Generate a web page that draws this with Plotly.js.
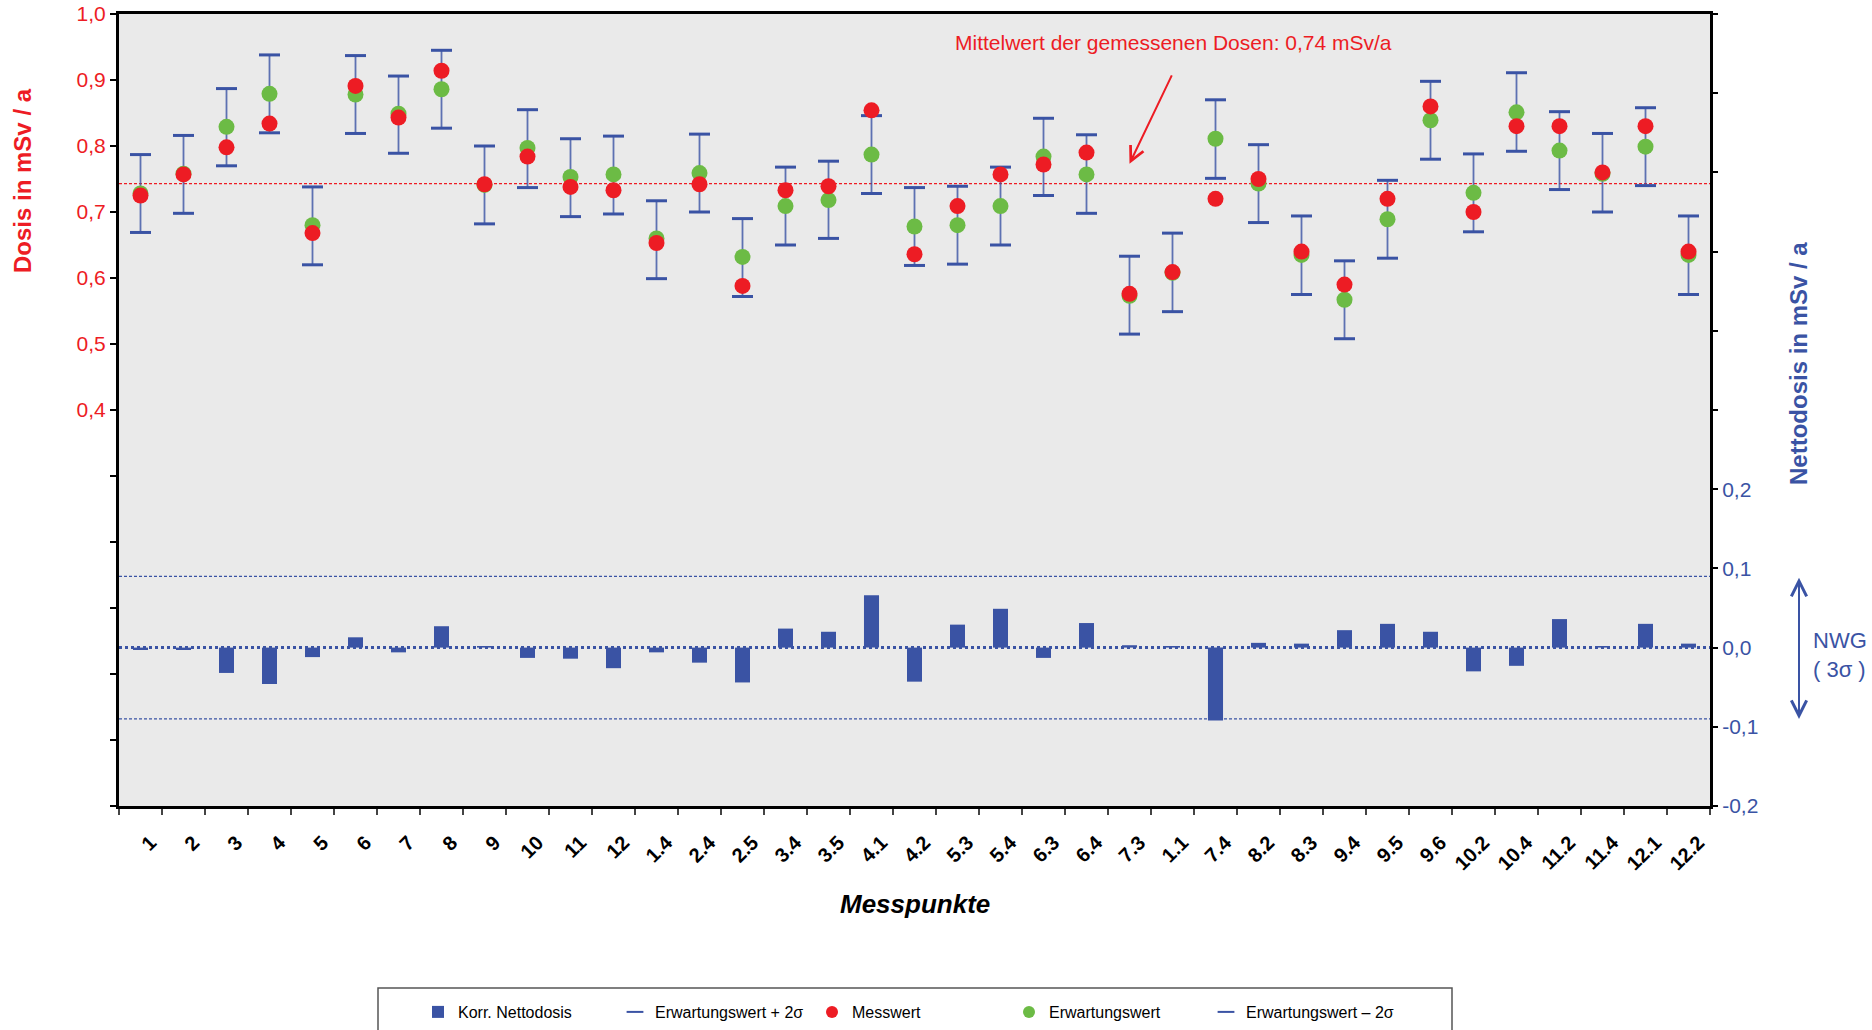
<!DOCTYPE html>
<html><head><meta charset="utf-8">
<script src="https://cdn.plot.ly/plotly-3.0.1.min.js"></script>
<style>html,body{margin:0;padding:0;background:#fff;} #chart{width:1872px;height:1030px;}</style>
</head><body><div id="chart"></div>
<script>
const categories = ['1','2','3','4','5','6','7','8','9','10','11','12','1.4','2.4','2.5','3.4','3.5','4.1','4.2','5.3','5.4','6.3','6.4','7.3','1.1','7.4','8.2','8.3','9.4','9.5','9.6','10.2','10.4','11.2','11.4','12.1','12.2'];
const messwert = [0.725,0.757,0.798,0.834,0.668,0.891,0.843,0.914,0.742,0.784,0.738,0.733,0.653,0.742,0.588,0.733,0.739,0.854,0.636,0.709,0.757,0.772,0.790,0.576,0.609,0.720,0.750,0.640,0.590,0.720,0.860,0.700,0.830,0.830,0.760,0.830,0.640];
const erwartungswert = [0.728,0.758,0.829,0.879,0.680,0.878,0.849,0.886,0.741,0.797,0.753,0.757,0.660,0.759,0.632,0.709,0.718,0.787,0.678,0.680,0.709,0.784,0.757,0.573,0.608,0.811,0.743,0.635,0.567,0.689,0.839,0.729,0.851,0.793,0.758,0.799,0.635];
const erwartungPlus2s = [0.787,0.816,0.887,0.938,0.738,0.937,0.906,0.945,0.800,0.855,0.811,0.815,0.717,0.818,0.690,0.768,0.777,0.846,0.737,0.739,0.768,0.842,0.817,0.633,0.668,0.870,0.802,0.694,0.626,0.748,0.898,0.788,0.911,0.852,0.819,0.858,0.694];
const erwartungMinus2s = [0.669,0.698,0.770,0.820,0.620,0.819,0.789,0.827,0.682,0.737,0.693,0.697,0.599,0.700,0.572,0.650,0.660,0.728,0.619,0.621,0.650,0.725,0.698,0.515,0.549,0.751,0.684,0.575,0.508,0.630,0.780,0.670,0.792,0.734,0.700,0.740,0.575];
const nettodosis = [-0.003,-0.003,-0.032,-0.046,-0.012,0.013,-0.006,0.027,0.002,-0.013,-0.014,-0.026,-0.006,-0.019,-0.044,0.024,0.020,0.066,-0.043,0.029,0.049,-0.013,0.031,0.003,0.002,-0.092,0.006,0.005,0.022,0.030,0.020,-0.030,-0.023,0.036,0.002,0.030,0.005];
const meanDose = 0.743;
const nwgLimit = 0.09;
const leftTickVals = [-0.2,-0.1,0,0.1,0.2,0.3,0.4,0.5,0.6,0.7,0.8,0.9,1.0];
const leftTickText = ['','','','','','','0,4','0,5','0,6','0,7','0,8','0,9','1,0'];
const rightTickVals = [-0.2,-0.1,0,0.1,0.2,0.3,0.4,0.5,0.6,0.7,0.8];
const rightTickText = ['-0,2','-0,1','0,0','0,1','0,2','','','','','',''];

const BLUE = '#3a53a4', RED = '#ed1c24', GREEN = '#6cbb45';
const FONT = 'Liberation Sans, Arial, sans-serif';

const vx = [], vy = [];
categories.forEach((c, i) => { vx.push(c, c, null); vy.push(erwartungMinus2s[i], erwartungPlus2s[i], null); });

const traces = [
  {type:'bar', x:categories, y:nettodosis, yaxis:'y2', name:'Korr. Nettodosis', marker:{color:BLUE}, width:0.35, legendrank:1},
  {type:'scatter', mode:'lines', x:vx, y:vy, line:{color:'rgba(58,83,164,0.8)', width:1.8}, showlegend:false, hoverinfo:'skip'},
  {type:'scatter', mode:'markers', x:categories, y:erwartungPlus2s, name:'Erwartungswert + 2σ', marker:{symbol:'line-ew', size:15, line:{color:BLUE, width:3}}, legendrank:2},
  {type:'scatter', mode:'markers', x:categories, y:erwartungMinus2s, name:'Erwartungswert – 2σ', marker:{symbol:'line-ew', size:15, line:{color:BLUE, width:3}}, legendrank:5},
  {type:'scatter', mode:'markers', x:categories, y:erwartungswert, name:'Erwartungswert', marker:{symbol:'circle', size:16, color:GREEN}, legendrank:4},
  {type:'scatter', mode:'markers', x:categories, y:messwert, name:'Messwert', marker:{symbol:'circle', size:16, color:RED}, legendrank:3}
];

const px2x = p => (p - 119) / 1591;
const px2y = p => (806 - p) / 792;

const layout = {
  width:1872, height:1030,
  margin:{l:119, r:162, t:14, b:224, pad:0},
  paper_bgcolor:'#ffffff', plot_bgcolor:'#eaeaea',
  font:{family:FONT, color:'#000'},
  hovermode:false,
  xaxis:{type:'category', categoryorder:'array', categoryarray:categories, range:[-0.5, categories.length-0.5],
    tickangle:-45, ticks:'outside', tickson:'boundaries', ticklen:6, tickwidth:1.5, tickcolor:'#444',
    ticklabelstandoff:14, ticklabelshift:10,
    showline:true, linewidth:3, linecolor:'#000', mirror:true, showgrid:false, zeroline:false,
    tickfont:{family:FONT, size:20, color:'#000', weight:'bold'}, automargin:false},
  yaxis:{range:[-0.2, 1.0], tickmode:'array', tickvals:leftTickVals, ticktext:leftTickText,
    ticks:'outside', ticklen:6, tickwidth:2, tickcolor:'#000', showline:true, linewidth:3, linecolor:'#000',
    showgrid:false, zeroline:false, tickfont:{family:FONT, size:21, color:RED}, automargin:false},
  yaxis2:{overlaying:'y', side:'right', range:[-0.2, 0.8], tickmode:'array', tickvals:rightTickVals, ticktext:rightTickText,
    ticks:'outside', ticklen:5, tickwidth:2, tickcolor:'#000', showline:true, linewidth:3, linecolor:'#000',
    showgrid:false, zeroline:false, tickfont:{family:FONT, size:21, color:BLUE}, automargin:false},
  showlegend:true,
  legend:{orientation:'h', xref:'container', yref:'container', x:418/1872, xanchor:'left', y:(1030-1012)/1030, yanchor:'middle',
    bgcolor:'rgba(0,0,0,0)', borderwidth:0, font:{family:FONT, size:16, color:'#000'},
    entrywidth:152, entrywidthmode:'pixels', itemsizing:'constant', traceorder:'normal'},
  shapes:[
    {type:'line', xref:'paper', x0:0, x1:1, yref:'y', y0:meanDose, y1:meanDose, line:{color:RED, width:1.2, dash:'3px,2px'}, layer:'below'},
    {type:'line', xref:'paper', x0:0, x1:1, yref:'y2', y0:nwgLimit, y1:nwgLimit, line:{color:BLUE, width:1.2, dash:'3px,2px'}, layer:'below'},
    {type:'line', xref:'paper', x0:0, x1:1, yref:'y2', y0:-nwgLimit, y1:-nwgLimit, line:{color:BLUE, width:1.2, dash:'3px,2px'}, layer:'below'},
    {type:'line', xref:'paper', x0:0, x1:1, yref:'y2', y0:0, y1:0, line:{color:BLUE, width:3, dash:'dot'}, layer:'above'},
    {type:'rect', xref:'paper', yref:'paper', x0:px2x(378), x1:px2x(1452), y0:px2y(988), y1:px2y(1100), line:{color:'#555', width:1.5}, fillcolor:'rgba(0,0,0,0)'}
  ],
  annotations:[
    {text:'<b>Dosis in mSv / a</b>', xref:'paper', yref:'paper', x:px2x(22), y:px2y(181), textangle:-90, showarrow:false, xanchor:'center', yanchor:'middle', font:{family:FONT, size:24, color:RED}},
    {text:'<b>Nettodosis in mSv / a</b>', xref:'paper', yref:'paper', x:px2x(1798), y:px2y(364), textangle:-90, showarrow:false, xanchor:'center', yanchor:'middle', font:{family:FONT, size:24, color:BLUE}},
    {text:'<b><i>Messpunkte</i></b>', xref:'paper', yref:'paper', x:0.5, y:px2y(904), showarrow:false, xanchor:'center', yanchor:'middle', font:{family:FONT, size:26, color:'#000'}},
    {text:'Mittelwert der gemessenen Dosen: 0,74 mSv/a', xref:'paper', yref:'paper', x:px2x(1173), y:px2y(42), showarrow:false, xanchor:'center', yanchor:'middle', font:{family:FONT, size:21, color:RED}},
    {text:'', xref:'x', yref:'y', x:categories.indexOf('7.3'), y:0.773, showarrow:true, ax:43, ay:-90, arrowhead:5, arrowsize:1.4, arrowwidth:2, arrowcolor:RED},
    {text:'', xref:'paper', yref:'y2', x:px2x(1799), y:-nwgLimit, axref:'pixel', ax:0, ayref:'y2', ay:nwgLimit, showarrow:true, arrowside:'end+start', arrowhead:5, startarrowhead:5, arrowsize:1.5, startarrowsize:1.5, arrowwidth:2, arrowcolor:BLUE},
    {text:'NWG<br>( 3σ )', xref:'paper', yref:'paper', x:px2x(1811), y:px2y(655), showarrow:false, xanchor:'left', yanchor:'middle', align:'left', font:{family:FONT, size:22, color:BLUE}}
  ]
};

Plotly.newPlot('chart', traces, layout, {displayModeBar:false, staticPlot:true});
</script>
</body></html>
